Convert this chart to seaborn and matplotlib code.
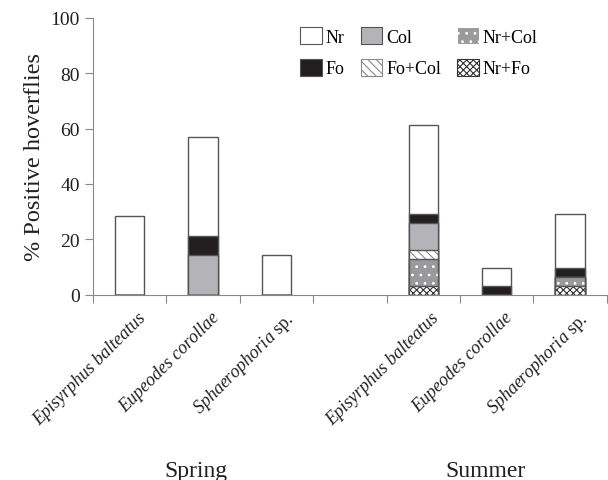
import numpy as np
import pandas as pd
import matplotlib
matplotlib.use("Agg")
import matplotlib.pyplot as plt
from matplotlib.patches import Patch
import seaborn as sns

# slots: 3 spring species, a gap, 3 summer species
slots = ["sp_eb", "sp_ec", "sp_ss", "gap", "su_eb", "su_ec", "su_ss"]
species = ["Episyrphus balteatus", "Eupeodes corollae", r"$\mathit{Sphaerophoria}$ sp."]
seasons = ["Spring", "Summer"]

# % positive hoverflies per pollen type (gap slot = nan)
nr_fo  = [0, 0, 0, np.nan, 3.2, 0, 3.2]
nr_col = [0, 0, 0, np.nan, 9.7, 0, 3.2]
fo_col = [0, 0, 0, np.nan, 3.2, 0, 0]
col    = [0, 14.3, 0, np.nan, 9.7, 0, 0]
fo     = [0, 7.1, 0, np.nan, 3.2, 3.2, 3.2]
nr     = [28.6, 35.7, 14.3, np.nan, 32.3, 6.5, 19.4]

layers = ["Nr+Fo", "Nr+Col", "Fo+Col", "Col", "Fo", "Nr"]  # bottom -> top
df = pd.DataFrame({"slot": slots, "Nr+Fo": nr_fo, "Nr+Col": nr_col, "Fo+Col": fo_col,
                   "Col": col, "Fo": fo, "Nr": nr})
cum = df[layers].cumsum(axis=1)
cum["slot"] = slots

styles = {
    "Nr":     dict(fc="white",   hatch=None,    hc="#555555"),
    "Fo":     dict(fc="#231f20", hatch=None,    hc="#231f20"),
    "Col":    dict(fc="#b4b4b8", hatch=None,    hc="#555555"),
    "Fo+Col": dict(fc="white",   hatch="\\\\\\\\", hc="#8a8a8a"),
    "Nr+Col": dict(fc="#9a9a9c", hatch="..",   hc="white"),
    "Nr+Fo":  dict(fc="white",   hatch="xxxxx", hc="#333333"),
}
edge = "#555555"

plt.rcParams["font.family"] = "Liberation Serif"
plt.rcParams["mathtext.fontset"] = "custom"
plt.rcParams["mathtext.it"] = "Liberation Serif:italic"
plt.rcParams["mathtext.rm"] = "Liberation Serif"
plt.rcParams["hatch.linewidth"] = 0.8

fig = plt.figure(figsize=(6.08, 4.81), dpi=100)
ax = fig.add_axes([0.153, 0.385, 0.845, 0.576])

for name in reversed(layers):
    st = styles[name]
    sns.barplot(data=cum, x="slot", y=name, order=slots, color=st["fc"], saturation=1,
                width=0.4, edgecolor=st["hc"], linewidth=0, hatch=st["hatch"], ax=ax,
                errorbar=None)
    sns.barplot(data=cum, x="slot", y=name, order=slots, fill=False, width=0.4,
                edgecolor=edge, linewidth=1.0, ax=ax, errorbar=None)

ax.set_xlim(-0.5, len(slots) - 0.5)
ax.set_ylim(0, 100)
ax.set_yticks([0, 20, 40, 60, 80, 100])
ax.tick_params(axis="y", labelsize=14, colors="#888888", labelcolor="#231f20", length=6)
ax.set_ylabel("% Positive hoverflies", fontsize=17.5, color="#231f20", labelpad=4)

ax.set_xticks(np.arange(len(slots) + 1) - 0.5)
ax.set_xticklabels([])
ax.tick_params(axis="x", colors="#888888", length=6)
ax.set_xlabel("")
for s in ["top", "right"]:
    ax.spines[s].set_visible(False)
for s in ["left", "bottom"]:
    ax.spines[s].set_color("#888888")

xt = [0, 1, 2, 4, 5, 6]
for i, x in enumerate(xt):
    lab = species[i % 3]
    kw = {} if "$" in lab else {"fontstyle": "italic"}
    ax.text(x + 0.1, -5, lab, rotation=45, ha="right", va="top", rotation_mode="anchor",
            fontsize=13, color="#231f20", **kw)
ax.text(0.9, -59.5, seasons[0], ha="center", va="top", fontsize=17, color="#231f20")
ax.text(4.85, -59.5, seasons[1], ha="center", va="top", fontsize=17, color="#231f20")

order = ["Nr", "Fo", "Col", "Fo+Col", "Nr+Col", "Nr+Fo"]
handles = [Patch(facecolor=styles[n]["fc"], edgecolor=styles[n]["hc"] if styles[n]["hatch"] else edge,
                 hatch=styles[n]["hatch"], linewidth=0.8, label=n) for n in order]
ax.legend(handles=handles, ncol=3, frameon=False, loc="upper left",
          bbox_to_anchor=(0.372, 1.025), fontsize=13, handlelength=1.2, handleheight=1.1,
          handletextpad=0.2, columnspacing=0.9, labelspacing=0.7)

fig.savefig("out.png", dpi=100)
